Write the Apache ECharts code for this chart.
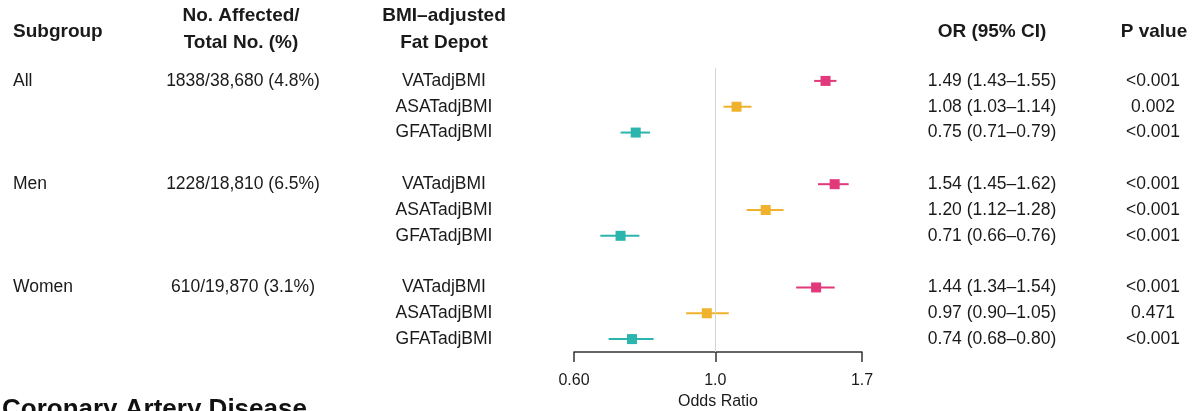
<!DOCTYPE html>
<html>
<head>
<meta charset="utf-8">
<script src="https://cdn.jsdelivr.net/npm/echarts@6/dist/echarts.min.js"></script>
<style>html,body{margin:0;background:#fff}#main{width:1195px;height:411px}</style>
</head>
<body>
<div id="main"></div>
<script>
// table data
var subgroups = ['All', 'Men', 'Women'];
var counts = ['1838/38,680 (4.8%)', '1228/18,810 (6.5%)', '610/19,870 (3.1%)'];
var depots = ['VATadjBMI', 'ASATadjBMI', 'GFATadjBMI'];
var orValues = [1.49, 1.08, 0.75, 1.54, 1.20, 0.71, 1.44, 0.97, 0.74];
var ciLow = [1.43, 1.03, 0.71, 1.45, 1.12, 0.66, 1.34, 0.90, 0.68];
var ciHigh = [1.55, 1.14, 0.79, 1.62, 1.28, 0.76, 1.54, 1.05, 0.80];
var pValues = ['<0.001', '0.002', '<0.001', '<0.001', '<0.001', '<0.001', '<0.001', '0.471', '<0.001'];
var tickValues = [0.6, 1.0, 1.7];
var tickLabels = ['0.60', '1.0', '1.7'];
var depotColors = ['#e2387c', '#f0b22c', '#2bb5ad'];

var FONT = '"Liberation Sans", Arial, Helvetica, sans-serif';
var TXT = '#1a1a1a';

// 11 rows: 3 per subgroup, blank row between groups
var slots = [];
var points = [];
subgroups.forEach(function (g, gi) {
    depots.forEach(function (d, di) {
        var k = gi * 3 + di;
        var s = slots.length;
        slots.push({
            sub: di === 0 ? g : '',
            count: di === 0 ? counts[gi] : '',
            depot: d,
            ci: orValues[k].toFixed(2) + ' (' + ciLow[k].toFixed(2) + '\u2013' + ciHigh[k].toFixed(2) + ')',
            p: pValues[k]
        });
        points.push([orValues[k], s, ciLow[k], ciHigh[k], di]);
    });
    if (gi < subgroups.length - 1) slots.push(null);
});
var cats = slots.map(function (s, i) { return String(i); });

function colAxis(key, position, offset, align) {
    return {
        type: 'category', data: cats, inverse: true, position: position, offset: offset,
        axisLine: { show: false }, axisTick: { show: false }, splitLine: { show: false },
        axisLabel: {
            interval: 0, margin: 0, align: align, fontSize: 17.5, color: TXT, fontFamily: FONT,
            formatter: function (v, i) { return slots[i] ? slots[i][key] : ''; }
        }
    };
}

function header(text, x, y, align) {
    return {
        type: 'text', x: x, y: y,
        style: { text: text, textAlign: align, textVerticalAlign: 'middle', fill: TXT, font: 'bold 19px ' + FONT }
    };
}

var myChart = echarts.init(document.getElementById('main'));
myChart.setOption({
    animation: false,
    title: {
        text: 'Coronary Artery Disease', left: -3, top: 392,
        textStyle: { fontSize: 26, fontWeight: 'bold', color: '#111', fontFamily: FONT }
    },
    grid: { left: 574, right: 333, top: 68, bottom: 59, outerBoundsMode: 'none', containLabel: false },
    xAxis: {
        type: 'log', logBase: 10, min: 0.6, max: 1.7,
        axisLine: { onZero: false, lineStyle: { color: '#333', width: 1.5 } },
        axisTick: { customValues: tickValues, length: 10, lineStyle: { color: '#333', width: 1.5 } },
        axisLabel: {
            customValues: tickValues, margin: 21, fontSize: 16, color: TXT, fontFamily: FONT,
            formatter: function (v) {
                for (var i = 0; i < tickValues.length; i++) {
                    if (Math.abs(tickValues[i] - v) < 1e-3) return tickLabels[i];
                }
                return '';
            }
        },
        splitLine: { show: false },
        minorTick: { show: false },
        name: 'Odds Ratio', nameLocation: 'middle', nameGap: 39,
        nameTextStyle: { fontSize: 16, color: TXT, fontFamily: FONT }
    },
    yAxis: [
        { type: 'value', min: -0.5, max: 10.5, inverse: true, show: false },
        colAxis('sub', 'left', 561, 'left'),
        colAxis('count', 'left', 331, 'center'),
        colAxis('depot', 'left', 130, 'center'),
        colAxis('ci', 'right', 130, 'center'),
        colAxis('p', 'right', 291, 'center')
    ],
    graphic: [
        header('Subgroup', 13, 32, 'left'),
        header('No. Affected/', 241, 16, 'center'),
        header('Total No. (%)', 241, 43, 'center'),
        header('BMI\u2013adjusted', 444, 16, 'center'),
        header('Fat Depot', 444, 43, 'center'),
        header('OR (95% CI)', 992, 32, 'center'),
        header('P value', 1154, 32, 'center')
    ],
    series: [{
        type: 'custom',
        yAxisIndex: 0,
        data: points,
        encode: { x: 0, y: 1 },
        renderItem: function (params, api) {
            var y = api.value(1);
            var c = api.coord([api.value(0), y]);
            var lo = api.coord([api.value(2), y]);
            var hi = api.coord([api.value(3), y]);
            var color = depotColors[api.value(4)];
            return {
                type: 'group',
                children: [
                    { type: 'line', shape: { x1: lo[0], y1: c[1], x2: hi[0], y2: c[1] }, style: { stroke: color, lineWidth: 2 } },
                    { type: 'rect', shape: { x: c[0] - 5, y: c[1] - 5, width: 10, height: 10 }, style: { fill: color } }
                ]
            };
        },
        markLine: {
            silent: true, symbol: 'none', label: { show: false },
            lineStyle: { color: '#d4d4d4', width: 1, type: 'solid' },
            data: [{ xAxis: 1 }]
        },
        z: 3
    }]
});
</script>
</body>
</html>
